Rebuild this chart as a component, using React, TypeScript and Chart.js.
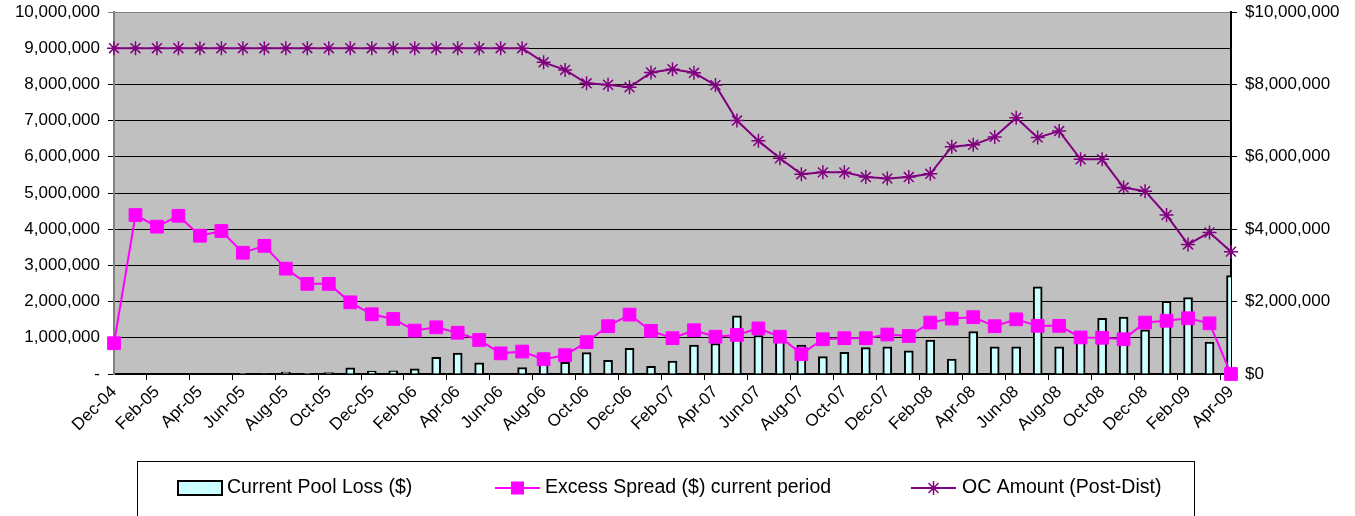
import React, { useEffect, useRef } from 'react';
import { Chart, registerables } from 'chart.js';

Chart.register(...registerables);

const FONT = '"Liberation Sans", Arial, sans-serif';

const categories = [
  'Dec-04', 'Jan-05', 'Feb-05', 'Mar-05', 'Apr-05', 'May-05', 'Jun-05', 'Jul-05', 'Aug-05', 'Sep-05', 'Oct-05', 'Nov-05',
  'Dec-05', 'Jan-06', 'Feb-06', 'Mar-06', 'Apr-06', 'May-06', 'Jun-06', 'Jul-06', 'Aug-06', 'Sep-06', 'Oct-06', 'Nov-06',
  'Dec-06', 'Jan-07', 'Feb-07', 'Mar-07', 'Apr-07', 'May-07', 'Jun-07', 'Jul-07', 'Aug-07', 'Sep-07', 'Oct-07', 'Nov-07',
  'Dec-07', 'Jan-08', 'Feb-08', 'Mar-08', 'Apr-08', 'May-08', 'Jun-08', 'Jul-08', 'Aug-08', 'Sep-08', 'Oct-08', 'Nov-08',
  'Dec-08', 'Jan-09', 'Feb-09', 'Mar-09', 'Apr-09',
];

const poolLoss = [
  0, 0, 0, 0, 0, 0, 20000, 15000, 55000, 10000, 40000, 170000,
  80000, 90000, 140000, 460000, 580000, 310000, 0, 180000, 280000, 320000, 590000, 380000,
  710000, 210000, 360000, 800000, 840000, 1610000, 1060000, 950000, 800000, 480000, 600000, 730000,
  750000, 640000, 940000, 410000, 1170000, 750000, 750000, 2410000, 750000, 920000, 1540000, 1570000,
  1220000, 2010000, 2110000, 880000, 2720000,
];

const excessSpread = [
  850000, 4390000, 4070000, 4370000, 3820000, 3950000, 3350000, 3540000, 2910000, 2490000, 2490000, 1980000,
  1650000, 1520000, 1200000, 1290000, 1140000, 940000, 570000, 620000, 410000, 520000, 880000, 1320000,
  1640000, 1190000, 990000, 1210000, 1030000, 1080000, 1260000, 1030000, 550000, 960000, 990000, 990000,
  1090000, 1050000, 1420000, 1530000, 1570000, 1320000, 1510000, 1330000, 1330000, 1010000, 1000000, 960000,
  1420000, 1470000, 1540000, 1400000, 0,
];

const ocAmount = [
  9000000, 9000000, 9000000, 9000000, 9000000, 9000000, 9000000, 9000000, 9000000, 9000000, 9000000, 9000000,
  9000000, 9000000, 9000000, 9000000, 9000000, 9000000, 9000000, 9000000, 8610000, 8400000, 8030000, 7990000,
  7920000, 8330000, 8420000, 8320000, 7980000, 7000000, 6440000, 5960000, 5520000, 5570000, 5570000, 5440000,
  5400000, 5440000, 5530000, 6280000, 6330000, 6550000, 7080000, 6530000, 6710000, 5930000, 5930000, 5150000,
  5050000, 4390000, 3580000, 3910000, 3380000,
];

const seriesNames = ['Current Pool Loss ($)', 'Excess Spread ($) current period', 'OC Amount (Post-Dist)'];

const AXIS_MAX = 10000000;
const LEFT_STEP = 1000000;
const RIGHT_STEP = 2000000;

const C_BAR = '#CCFFFF';
const C_PINK = '#FF00FF';
const C_PURPLE = '#800080';

function drawStar(ctx: CanvasRenderingContext2D, x: number, y: number, r: number) {
  ctx.beginPath();
  ctx.moveTo(x, y - r); ctx.lineTo(x, y + r);
  ctx.moveTo(x - r, y); ctx.lineTo(x + r, y);
  const d = r * Math.SQRT1_2;
  ctx.moveTo(x - d, y - d); ctx.lineTo(x + d, y + d);
  ctx.moveTo(x - d, y + d); ctx.lineTo(x + d, y - d);
  ctx.stroke();
}

const decorPlugin = {
  id: 'decor',
  beforeDraw(chart: any) {
    const { ctx, chartArea: a } = chart;
    ctx.save();
    ctx.fillStyle = '#ffffff';
    ctx.fillRect(0, 0, chart.width, chart.height);
    ctx.fillStyle = '#C0C0C0';
    ctx.fillRect(a.left, a.top, a.right - a.left, a.bottom - a.top);
    ctx.restore();
  },
  afterDraw(chart: any) {
    const { ctx } = chart;
    ctx.save();
    ctx.strokeStyle = '#000';
    ctx.lineWidth = 1;
    ctx.strokeRect(137.5, 461.5, 1057, 80);
    const cy = 488;
    ctx.font = '19.5px ' + FONT;
    ctx.fillStyle = '#000';
    ctx.textBaseline = 'middle';
    ctx.textAlign = 'left';
    ctx.fillStyle = C_BAR;
    ctx.fillRect(178, 481, 44, 14);
    ctx.strokeStyle = '#000';
    ctx.lineWidth = 2;
    ctx.strokeRect(178, 481, 44, 14);
    ctx.fillStyle = '#000';
    ctx.fillText(seriesNames[0], 227, cy);
    ctx.strokeStyle = C_PINK;
    ctx.lineWidth = 2;
    ctx.beginPath(); ctx.moveTo(495, cy); ctx.lineTo(540, cy); ctx.stroke();
    ctx.fillStyle = C_PINK;
    ctx.fillRect(511, cy - 6.5, 13, 13);
    ctx.fillStyle = '#000';
    ctx.fillText(seriesNames[1], 545, cy);
    ctx.strokeStyle = C_PURPLE;
    ctx.lineWidth = 2;
    ctx.beginPath(); ctx.moveTo(911, cy); ctx.lineTo(956, cy); ctx.stroke();
    ctx.lineWidth = 1.5;
    drawStar(ctx, 933.5, cy, 7);
    ctx.fillStyle = '#000';
    ctx.fillText(seriesNames[2], 962, cy);
    ctx.restore();
  },
};

export default function App() {
  const canvasRef = useRef<HTMLCanvasElement | null>(null);

  useEffect(() => {
    const canvas = canvasRef.current;
    if (!canvas) return;
    const tickFont = { family: FONT, size: 17 };
    const chart = new Chart(canvas, {
      type: 'bar',
      data: {
        labels: categories,
        datasets: [
          {
            type: 'line',
            label: seriesNames[2],
            data: ocAmount,
            borderColor: C_PURPLE,
            backgroundColor: C_PURPLE,
            borderWidth: 2,
            pointStyle: 'star',
            pointRadius: 7,
            pointBorderWidth: 1.5,
            pointBorderColor: C_PURPLE,
            pointBackgroundColor: C_PURPLE,
            tension: 0,
            clip: false,
            order: 1,
            yAxisID: 'y',
          } as any,
          {
            type: 'line',
            label: seriesNames[1],
            data: excessSpread,
            borderColor: C_PINK,
            backgroundColor: C_PINK,
            borderWidth: 2,
            pointStyle: 'rect',
            pointRadius: 9,
            pointBorderWidth: 1,
            pointBorderColor: C_PINK,
            pointBackgroundColor: C_PINK,
            tension: 0,
            clip: false,
            order: 2,
            yAxisID: 'y',
          } as any,
          {
            type: 'bar',
            label: seriesNames[0],
            data: poolLoss,
            backgroundColor: C_BAR,
            borderColor: '#000',
            borderWidth: 2,
            barThickness: 9,
            clip: 0,
            order: 3,
            yAxisID: 'y',
          } as any,
        ],
      },
      options: {
        animation: false,
        responsive: false,
        events: [],
        layout: { padding: { top: 12, left: 0, right: 0, bottom: 0 } },
        plugins: {
          legend: { display: false },
          tooltip: { enabled: false },
        },
        scales: {
          x: {
            type: 'category',
            offset: false,
            grid: {
              display: true,
              drawOnChartArea: false,
              drawTicks: true,
              tickLength: 6,
              lineWidth: 1,
              color: (c: any) => (c.index % 2 === 0 ? '#000' : 'rgba(0,0,0,0)'),
            },
            border: { display: true, color: '#000', width: 2 },
            ticks: {
              autoSkip: false,
              maxRotation: 45,
              minRotation: 45,
              padding: 2,
              color: '#000',
              font: tickFont,
              callback: (_v: any, i: number) => (i % 2 === 0 ? categories[i] : ''),
            },
            afterFit: (s: any) => { s.height = 142; s.paddingLeft = 0; s.paddingRight = 0; },
          } as any,
          y: {
            position: 'left',
            min: 0,
            max: AXIS_MAX,
            grid: {
              color: (c: any) => (c.tick && c.tick.value === AXIS_MAX ? '#808080' : '#000'),
              lineWidth: 1,
              tickLength: 6,
            },
            border: { display: true, color: '#808080', width: 2 },
            ticks: {
              stepSize: LEFT_STEP,
              padding: 8,
              color: '#000',
              font: tickFont,
              callback: (v: any) => (Number(v) === 0 ? '-' : Number(v).toLocaleString('en-US')),
            },
            afterFit: (s: any) => { s.width = 114; s.paddingTop = 0; s.paddingBottom = 0; },
          } as any,
          y1: {
            position: 'right',
            min: 0,
            max: AXIS_MAX,
            grid: { drawOnChartArea: false, tickLength: 6, color: '#000', lineWidth: 1 },
            border: { display: true, color: '#000', width: 2 },
            ticks: {
              stepSize: RIGHT_STEP,
              padding: 8,
              color: '#000',
              font: tickFont,
              callback: (v: any) => '$' + Number(v).toLocaleString('en-US'),
            },
            afterFit: (s: any) => { s.width = 124; s.paddingTop = 0; s.paddingBottom = 0; },
          } as any,
        },
      },
      plugins: [decorPlugin],
    });
    return () => chart.destroy();
  }, []);

  return (
    <div style={{ position: 'absolute', left: 0, top: 0, width: 1355, height: 516, background: '#fff' }}>
      <canvas ref={canvasRef} width={1355} height={516} style={{ display: 'block' }} />
    </div>
  );
}
